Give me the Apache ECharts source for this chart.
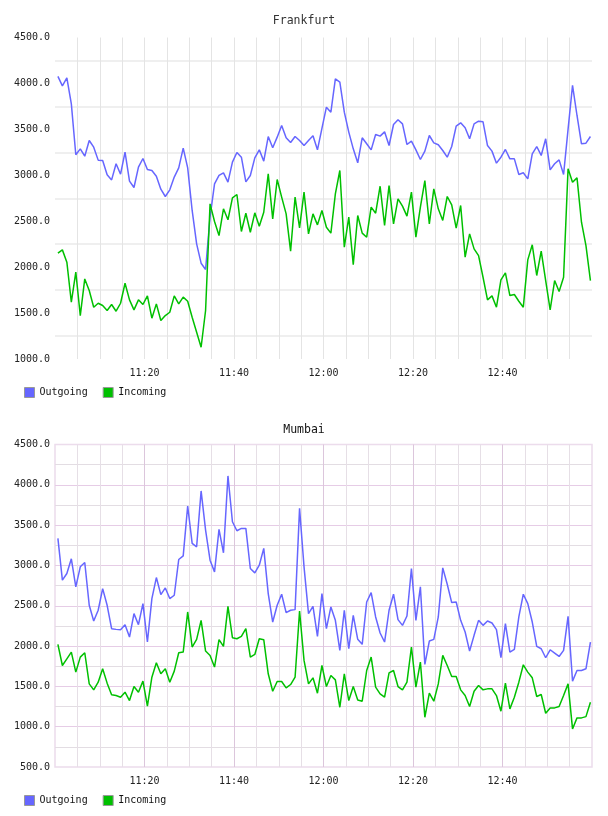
<!DOCTYPE html>
<html>
<head>
<meta charset="utf-8">
<script src="https://cdn.jsdelivr.net/npm/echarts@6/dist/echarts.min.js"></script>
<style>
  body { margin: 0; background: #fff; }
  #chart { width: 608px; height: 816px; }
</style>
</head>
<body>
<div id="chart"></div>
<script>
// one sample per minute, first one a little after 11:00
const startHour = 11
const firstOffset = 0.65
const seriesNames = ['Outgoing', 'Incoming']
const cities = ['Frankfurt', 'Mumbai']

const frankfurtOut = [
  4076, 3974, 4061, 3778, 3223, 3288, 3208, 3379, 3306, 3165,
  3161, 3005, 2950, 3125, 3012, 3252, 2936, 2867, 3088, 3183,
  3063, 3052, 2990, 2849, 2769, 2842, 2980, 3081, 3295, 3081,
  2617, 2254, 2043, 1974, 2544, 2907, 2998, 3027, 2925, 3143,
  3248, 3197, 2929, 2998, 3190, 3277, 3154, 3422, 3299, 3415,
  3542, 3408, 3357, 3422, 3379, 3324, 3379, 3430, 3277, 3510,
  3742, 3687, 4050, 4014, 3687, 3470, 3288, 3136, 3408, 3343,
  3277, 3444, 3426, 3473, 3324, 3553, 3604, 3560, 3335, 3372,
  3277, 3172, 3263, 3433, 3353, 3332, 3270, 3197, 3313, 3535,
  3571, 3517, 3397, 3560, 3589, 3582, 3324, 3263, 3132, 3197,
  3281, 3179, 3179, 3009, 3027, 2961, 3234, 3313, 3216, 3397,
  3059, 3125, 3168, 3009, 3500, 3978, 3651, 3343, 3350, 3422
]
const frankfurtIn = [
  2152, 2188, 2054, 1618, 1945, 1473, 1872, 1745, 1564, 1607,
  1582, 1528, 1593, 1520, 1607, 1825, 1644, 1535, 1644, 1593,
  1687, 1444, 1600, 1419, 1473, 1509, 1687, 1600, 1673, 1629,
  1455, 1292, 1128, 1528, 2689, 2497, 2344, 2635, 2515, 2754,
  2791, 2388, 2587, 2380, 2591, 2446, 2598, 3016, 2526, 2954,
  2762, 2580, 2174, 2762, 2428, 2816, 2362, 2580, 2460, 2617,
  2435, 2370, 2798, 3052, 2217, 2544, 2028, 2562, 2370, 2326,
  2653, 2587, 2881, 2453, 2889, 2471, 2744, 2664, 2555, 2816,
  2326, 2653, 2943, 2471, 2852, 2635, 2508, 2769, 2678, 2424,
  2671, 2108, 2362, 2199, 2126, 1890, 1644, 1687, 1564, 1861,
  1938, 1691, 1702, 1629, 1564, 2079, 2243, 1909, 2174, 1854,
  1535, 1854, 1734, 1890, 3070, 2925, 2972, 2489, 2235, 1854
]
const mumbaiOut = [
  3335, 2817, 2900, 3082, 2734, 2983, 3036, 2506, 2311, 2444,
  2713, 2506, 2216, 2207, 2203, 2265, 2112, 2402, 2265, 2527,
  2050, 2589, 2850, 2638, 2721, 2589, 2630, 3074, 3119, 3737,
  3273, 3231, 3924, 3439, 3065, 2920, 3447, 3157, 4110, 3542,
  3430, 3459, 3459, 2962, 2908, 3003, 3211, 2651, 2298, 2506,
  2643, 2415, 2444, 2452, 3708, 2983, 2402, 2493, 2120, 2651,
  2216, 2485, 2319, 1946, 2444, 1967, 2381, 2083, 2021, 2547,
  2663, 2361, 2162, 2050, 2444, 2643, 2328, 2257, 2373, 2962,
  2319, 2734, 1772, 2062, 2083, 2361, 2970, 2767, 2539, 2547,
  2319, 2174, 1938, 2133, 2319, 2257, 2311, 2286, 2203, 1855,
  2278, 1925, 1958, 2361, 2643, 2527, 2298, 1996, 1967, 1855,
  1954, 1913, 1871, 1946, 2369, 1565, 1697, 1697, 1718, 2050
]
const mumbaiIn = [
  2021, 1759, 1842, 1925, 1677, 1863, 1917, 1531, 1457, 1552,
  1718, 1540, 1395, 1386, 1366, 1428, 1324, 1498, 1428, 1565,
  1254, 1614, 1793, 1656, 1718, 1552, 1689, 1917, 1925, 2423,
  1988, 2083, 2319, 1938, 1884, 1739, 2079, 1996, 2493, 2104,
  2091, 2120, 2216, 1863, 1896, 2091, 2079, 1656, 1440, 1560,
  1560, 1482, 1523, 1614, 2435, 1822, 1531, 1606, 1415, 1759,
  1498, 1635, 1581, 1241, 1656, 1324, 1498, 1332, 1316, 1697,
  1863, 1490, 1407, 1366, 1668, 1697, 1498, 1457, 1552, 1988,
  1490, 1801, 1117, 1415, 1316, 1531, 1884, 1759, 1623, 1623,
  1457, 1386, 1250, 1440, 1511, 1457, 1469, 1469, 1386, 1192,
  1540, 1221, 1366, 1552, 1768, 1677, 1606, 1374, 1399, 1167,
  1233, 1233, 1250, 1386, 1531, 972, 1109, 1109, 1125, 1303
]

const font = 'DejaVu Sans Mono'
const blue = '#6666ff'
const green = '#00c000'

function toPairs(values) {
  return values.map((v, i) => [firstOffset + i, v])
}

function timeLabel(v) {
  const h = startHour + Math.floor(v / 60)
  const m = v % 60
  return h + ':' + (m < 10 ? '0' + m : m)
}

const chart = echarts.init(document.getElementById('chart'))

function xAxisFor(idx, majorColor, minorColor) {
  return {
    gridIndex: idx,
    type: 'value',
    min: 0,
    max: 120,
    interval: 20,
    axisLine: { show: false },
    axisTick: { show: false },
    axisLabel: {
      formatter: timeLabel,
      showMinLabel: false,
      showMaxLabel: false,
      color: '#222',
      fontFamily: font,
      fontSize: 10,
      margin: 9
    },
    splitLine: { show: true, showMinLine: false, showMaxLine: false, lineStyle: { color: majorColor, width: 1 } },
    minorTick: { show: false, splitNumber: 4 },
    minorSplitLine: { show: true, lineStyle: { color: minorColor, width: 1 } }
  }
}

function legendAt(top) {
  return {
    top: top,
    left: 19,
    icon: 'rect',
    itemWidth: 10,
    itemHeight: 10,
    itemGap: 15,
    data: seriesNames,
    itemStyle: { borderColor: '#999', borderWidth: 1 },
    textStyle: { fontFamily: font, fontSize: 10, color: '#111' }
  }
}

function lineSeries(name, color, values, idx) {
  return {
    name: name,
    type: 'line',
    xAxisIndex: idx,
    yAxisIndex: idx,
    data: toPairs(values),
    showSymbol: false,
    clip: true,
    color: color,
    lineStyle: { color: color, width: 1.5 }
  }
}

chart.setOption({
  animation: false,
  backgroundColor: '#fff',
  title: [
    { text: cities[0], left: 'center', top: 10, textStyle: { fontFamily: font, fontSize: 11.5, fontWeight: 'normal', color: '#333' } },
    { text: cities[1], left: 'center', top: 419, textStyle: { fontFamily: font, fontSize: 11.5, fontWeight: 'normal', color: '#111' } }
  ],
  legend: [legendAt(382), legendAt(790)],
  grid: [
    { left: 55, right: 16, top: 37.5, bottom: 457 },
    { left: 55, right: 16, top: 444.5, bottom: 49, show: true, borderColor: '#ecdcec', borderWidth: 1.5 }
  ],
  xAxis: [
    xAxisFor(0, '#e4e4e4', '#e4e4e4'),
    xAxisFor(1, '#dcc6dc', '#e6dfe6')
  ],
  yAxis: [
    {
      gridIndex: 0,
      type: 'value',
      min: 1000,
      max: 4500,
      interval: 500,
      axisLine: { show: false },
      axisTick: { show: false },
      axisLabel: { formatter: v => v.toFixed(1), color: '#222', fontFamily: font, fontSize: 10, margin: 5 },
      splitLine: { show: false },
      minorTick: { show: false, splitNumber: 2 },
      minorSplitLine: { show: true, lineStyle: { color: '#efefef', width: 2 } }
    },
    {
      gridIndex: 1,
      type: 'value',
      min: 500,
      max: 4500,
      interval: 500,
      axisLine: { show: false },
      axisTick: { show: false },
      axisLabel: { formatter: v => v.toFixed(1), color: '#222', fontFamily: font, fontSize: 10, margin: 5 },
      splitLine: { show: true, showMinLine: false, showMaxLine: false, lineStyle: { color: '#e6cce6' } },
      minorTick: { show: false, splitNumber: 2 },
      minorSplitLine: { show: true, lineStyle: { color: '#e3dde3' } }
    }
  ],
  series: [
    lineSeries(seriesNames[0], blue, frankfurtOut, 0),
    lineSeries(seriesNames[1], green, frankfurtIn, 0),
    lineSeries(seriesNames[0], blue, mumbaiOut, 1),
    lineSeries(seriesNames[1], green, mumbaiIn, 1)
  ]
})
</script>
</body>
</html>
